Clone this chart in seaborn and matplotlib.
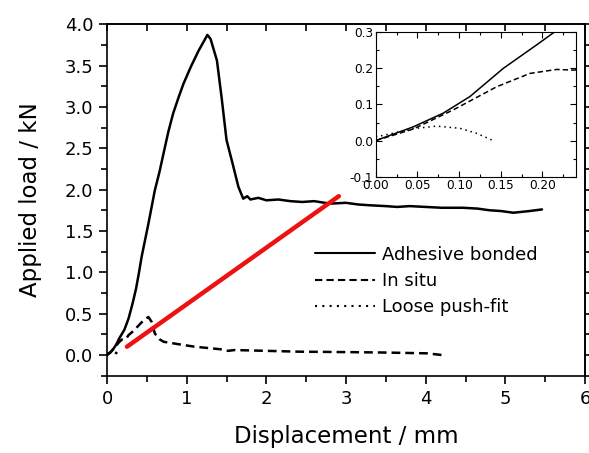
import matplotlib

matplotlib.use("Agg")
import matplotlib.pyplot as plt
import pandas as pd
import seaborn as sns
from matplotlib.ticker import FormatStrFormatter, MultipleLocator, NullFormatter

# Adhesive bonded (solid)
adhesive_x = [0.0, 0.045, 0.081, 0.113, 0.153, 0.193, 0.22, 0.27, 0.32, 0.364, 0.40, 0.435,
              0.52, 0.60, 0.66, 0.71, 0.77, 0.83, 0.90, 0.96, 1.05, 1.15, 1.22, 1.26, 1.30,
              1.38, 1.44, 1.50, 1.58, 1.65, 1.71, 1.76, 1.80, 1.9, 2.0, 2.15, 2.3, 2.45, 2.6,
              2.8, 3.0, 3.15, 3.3, 3.5, 3.64, 3.8, 4.0, 4.2, 4.47, 4.65, 4.8, 4.95, 5.1, 5.2,
              5.3, 5.46]
adhesive_y = [0.0, 0.038, 0.076, 0.122, 0.200, 0.265, 0.31, 0.44, 0.62, 0.80, 0.99, 1.19,
              1.59, 1.99, 2.22, 2.44, 2.70, 2.92, 3.12, 3.28, 3.48, 3.68, 3.80, 3.87, 3.82,
              3.56, 3.10, 2.60, 2.30, 2.03, 1.89, 1.92, 1.88, 1.90, 1.87, 1.88, 1.86, 1.85, 1.86,
              1.83, 1.84, 1.82, 1.81, 1.80, 1.79, 1.80, 1.79, 1.78, 1.78, 1.77, 1.75, 1.74, 1.72,
              1.73, 1.74, 1.76]

# In situ (dashed)
insitu_x = [0.0, 0.045, 0.093, 0.145, 0.185, 0.217, 0.239, 0.27, 0.33, 0.45, 0.52, 0.56,
            0.60, 0.66, 0.71, 0.9, 1.1, 1.42, 1.52, 1.6, 2.0, 2.42, 3.0, 3.47, 4.02, 4.2]
insitu_y = [0.0, 0.032, 0.085, 0.149, 0.186, 0.197, 0.195, 0.24, 0.29, 0.41, 0.46, 0.40,
            0.26, 0.19, 0.16, 0.13, 0.10, 0.07, 0.05, 0.06, 0.05, 0.04, 0.035, 0.03, 0.02, 0.0]

# Loose push-fit (dotted)
loose_x = [0.0, 0.02, 0.045, 0.073, 0.101, 0.121, 0.139]
loose_y = [0.01, 0.02, 0.033, 0.040, 0.034, 0.020, 0.002]

# red guide line
red_x = [0.25, 2.91]
red_y = [0.10, 1.92]

series = [
    ("Adhesive bonded", adhesive_x, adhesive_y, "-"),
    ("In situ", insitu_x, insitu_y, (0, (3.5, 2))),
    ("Loose push-fit", loose_x, loose_y, (0, (1, 2.5))),
]

sns.set_theme(style="ticks")
plt.rcParams["font.family"] = ["DejaVu Sans"]
plt.rcParams.update({
    "axes.linewidth": 1.2,
    "text.color": "black",
    "axes.labelcolor": "black",
    "axes.edgecolor": "black",
    "xtick.color": "black",
    "ytick.color": "black",
})

fig = plt.figure(figsize=(5.89, 4.53), dpi=100)
ax = fig.add_axes([0.1817, 0.1707, 0.8115, 0.776])

for name, xs, ys, ls in series:
    frame = pd.DataFrame({"x": xs, "y": ys})
    sns.lineplot(data=frame, x="x", y="y", sort=False, estimator=None, color="black",
                 linewidth=1.8, linestyle=ls, label=name, ax=ax)

sns.lineplot(x=red_x, y=red_y, color="#ee1111", linewidth=3.2, ax=ax, label="_nolegend_")

ax.set_xlim(0, 6)
ax.set_ylim(-0.25, 4.0)
ax.xaxis.set_major_locator(MultipleLocator(1))
ax.xaxis.set_minor_locator(MultipleLocator(0.5))
ax.yaxis.set_major_locator(MultipleLocator(0.5))
ax.yaxis.set_minor_locator(MultipleLocator(0.25))
ax.tick_params(which="major", direction="out", length=6, width=1.2, labelsize=13, pad=4)
ax.tick_params(which="minor", direction="out", length=4, width=1.2)
ax.set_xlabel("Displacement / mm", fontsize=16.5)
ax.set_ylabel("Applied load / kN", fontsize=16.5)
ax.xaxis.set_label_coords(0.5, -0.14)
ax.yaxis.set_label_coords(-0.135, 0.5)

top = ax.secondary_xaxis("top")
top.xaxis.set_major_locator(MultipleLocator(0.5))
top.tick_params(direction="in", length=5, width=1.2)
top.xaxis.set_major_formatter(NullFormatter())
right = ax.secondary_yaxis("right")
right.yaxis.set_major_locator(MultipleLocator(0.25))
right.tick_params(direction="out", length=5, width=1.2)
right.yaxis.set_major_formatter(NullFormatter())

leg = ax.legend(loc="upper left", bbox_to_anchor=(0.42, 0.39), frameon=False, fontsize=13,
                handlelength=3.3, handletextpad=0.4, labelspacing=0.45, borderaxespad=0)
for line in leg.get_lines():
    line.set_linewidth(1.5)

# inset
inset = fig.add_axes([0.638, 0.610, 0.3396, 0.3188])
for name, xs, ys, ls in series:
    frame = pd.DataFrame({"x": xs, "y": ys})
    sns.lineplot(data=frame, x="x", y="y", sort=False, estimator=None, color="black",
                 linewidth=1.1, linestyle=ls, ax=inset, legend=False)
inset.set_xlim(0, 0.24)
inset.set_ylim(-0.1, 0.3)
inset.set_xlabel("")
inset.set_ylabel("")
inset.xaxis.set_major_locator(MultipleLocator(0.05))
inset.xaxis.set_minor_locator(MultipleLocator(0.025))
inset.yaxis.set_major_locator(MultipleLocator(0.1))
inset.yaxis.set_minor_locator(MultipleLocator(0.05))
inset.xaxis.set_major_formatter(FormatStrFormatter("%.2f"))
inset.yaxis.set_major_formatter(FormatStrFormatter("%.1f"))
inset.tick_params(which="both", direction="in", top=True, right=True, width=0.8)
inset.tick_params(which="major", length=4, labelsize=8.7, pad=2)
inset.tick_params(which="minor", length=2.5)
for spine in inset.spines.values():
    spine.set_linewidth(0.8)

fig.savefig("out.png", dpi=100, facecolor="white")
